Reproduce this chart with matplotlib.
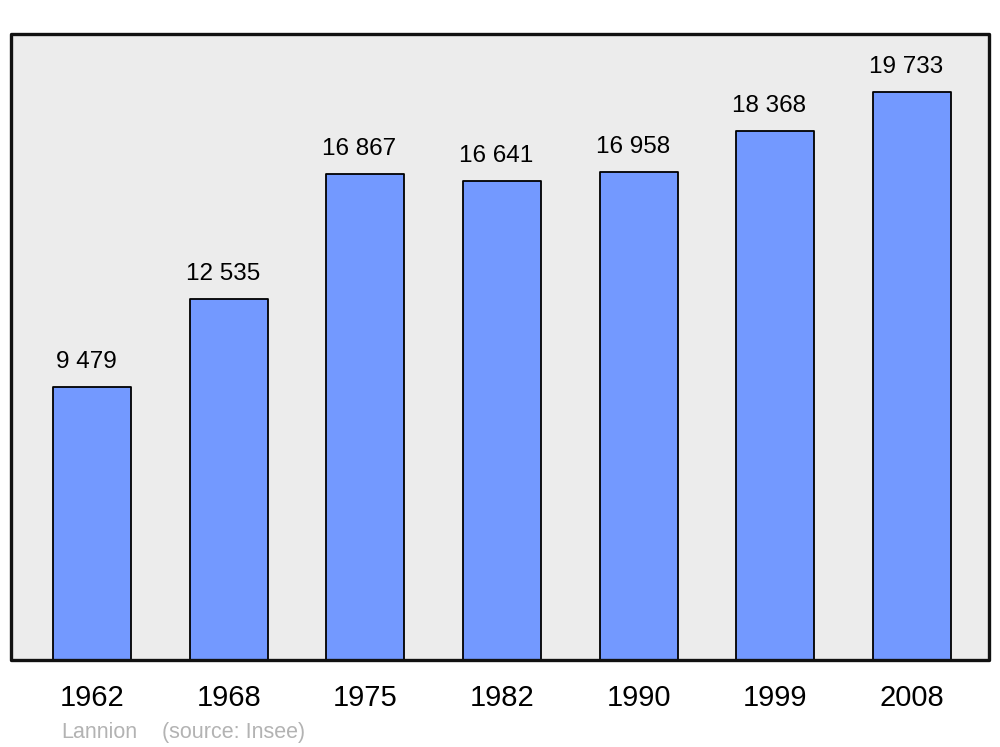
import numpy as np
import matplotlib.pyplot as plt
from matplotlib.patches import Rectangle

years = ['1962', '1968', '1975', '1982', '1990', '1999', '2008']
population = [9479, 12535, 16867, 16641, 16958, 18368, 19733]
value_labels = ['9 479', '12 535', '16 867', '16 641', '16 958', '18 368', '19 733']

plt.rcParams['font.family'] = ['Liberation Sans', 'DejaVu Sans']

fig = plt.figure(figsize=(10, 7.47), dpi=100)
ax = fig.add_axes([0.011, 0.1165, 0.978, 0.838])
ax.set_facecolor('#ececec')

x = np.arange(len(years))
bars = ax.bar(x, population, width=0.57, color='#7399ff', edgecolor='black',
              linewidth=1.3, joinstyle='round', zorder=2)

for xi, v, lab in zip(x, population, value_labels):
    ax.annotate(lab, (xi, v), xytext=(-4.3, 13.7), textcoords='offset points',
                ha='center', va='baseline', fontsize=17.5)

ax.set_xlim(-0.593, 6.563)
ax.set_ylim(0, 21740)
ax.set_yticks([])
ax.set_xticks(x)
ax.set_xticklabels(years, fontsize=21)
ax.tick_params(axis='x', length=0, pad=17)
for lbl in ax.get_xticklabels():
    lbl.set_x(lbl.get_position()[0])
for s in ax.spines.values():
    s.set_visible(False)

# frame with rounded corners
frame = Rectangle((0, 0), 1, 1, transform=ax.transAxes, fill=False,
                  edgecolor='#111111', linewidth=2.4, joinstyle='round',
                  zorder=3, clip_on=False)
ax.add_patch(frame)

fig.text(0.061, 0.012, 'Lannion', color='#b3b3b3', fontsize=15.5, va='baseline')
fig.text(0.162, 0.012, '(source: Insee)', color='#b3b3b3', fontsize=15.5, va='baseline')

fig.savefig('out.png', dpi=100)
